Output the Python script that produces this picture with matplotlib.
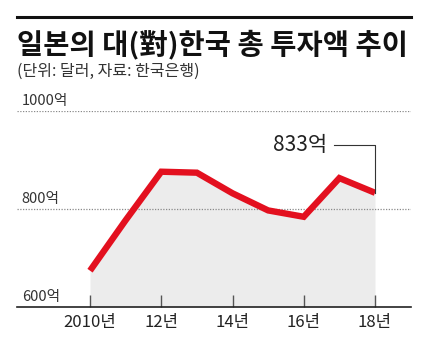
import matplotlib
matplotlib.use("Agg")
import matplotlib.pyplot as plt

plt.rcParams['font.family'] = ['Noto Sans CJK KR', 'DejaVu Sans']

# 일본의 대한국 총 투자액 (억 달러)
years = [2010, 2011, 2012, 2013, 2014, 2015, 2016, 2017, 2018]
invest = [674, 777, 876, 874, 832, 797, 784, 863, 833]
tick_years = [2010, 2012, 2014, 2016, 2018]
tick_labels = ['2010년', '12년', '14년', '16년', '18년']
grid_vals = [600, 800, 1000]
grid_labels = ['600억', '800억', '1000억']

fig = plt.figure(figsize=(4.25, 3.5), dpi=100)
fig.patch.set_facecolor('white')

# 상단 굵은 선 + 제목
fig.add_artist(plt.Line2D([0.04, 0.967], [0.951, 0.951], color='#111111', lw=2.2))
fig.text(0.04, 0.872, '일본의 대(對)한국 총 투자액 추이', fontsize=20.5, fontweight=900,
         color='#111111', va='center', ha='left')
fig.text(0.04, 0.797, '(단위: 달러, 자료: 한국은행)', fontsize=11.5, color='#333333',
         va='center', ha='left')

ax = fig.add_axes([0.04, 0.123, 0.927, 0.56])
ax.set_xlim(2007.95, 2019.01)
ax.set_ylim(600, 1000)

ax.fill_between(years, invest, 600, color='#ececec', lw=0, zorder=1)
ax.plot(years, invest, color='#e3101f', lw=4.6, solid_joinstyle='miter',
        solid_capstyle='butt', zorder=3)

for v in grid_vals[1:]:
    ax.axhline(v, color='#8a8a8a', lw=0.9, ls=(0, (1, 1.2)), zorder=2)

for v, lab in zip(grid_vals, grid_labels):
    ax.text(2008.08, v + 6, lab, fontsize=10.5, color='#333333', ha='left', va='bottom')

for spine in ['top', 'right', 'left']:
    ax.spines[spine].set_visible(False)
ax.spines['bottom'].set_color('#222222')
ax.spines['bottom'].set_linewidth(1.2)

ax.set_yticks([])
ax.set_xticks(tick_years)
ax.set_xticklabels(tick_labels, fontsize=12, color='#222222')
ax.tick_params(axis='x', direction='in', length=9, width=1, color='#555555', pad=5)

# 2018년 값 주석
last_x, last_y = years[-1], invest[-1]
ax.plot([2016.85, last_x, last_x], [930, 930, last_y], color='#333333', lw=0.8, zorder=4)
ax.text(2016.65, 930, f'{last_y}억', fontsize=15, color='#222222', ha='right', va='center')

fig.savefig('out.png', dpi=100)
